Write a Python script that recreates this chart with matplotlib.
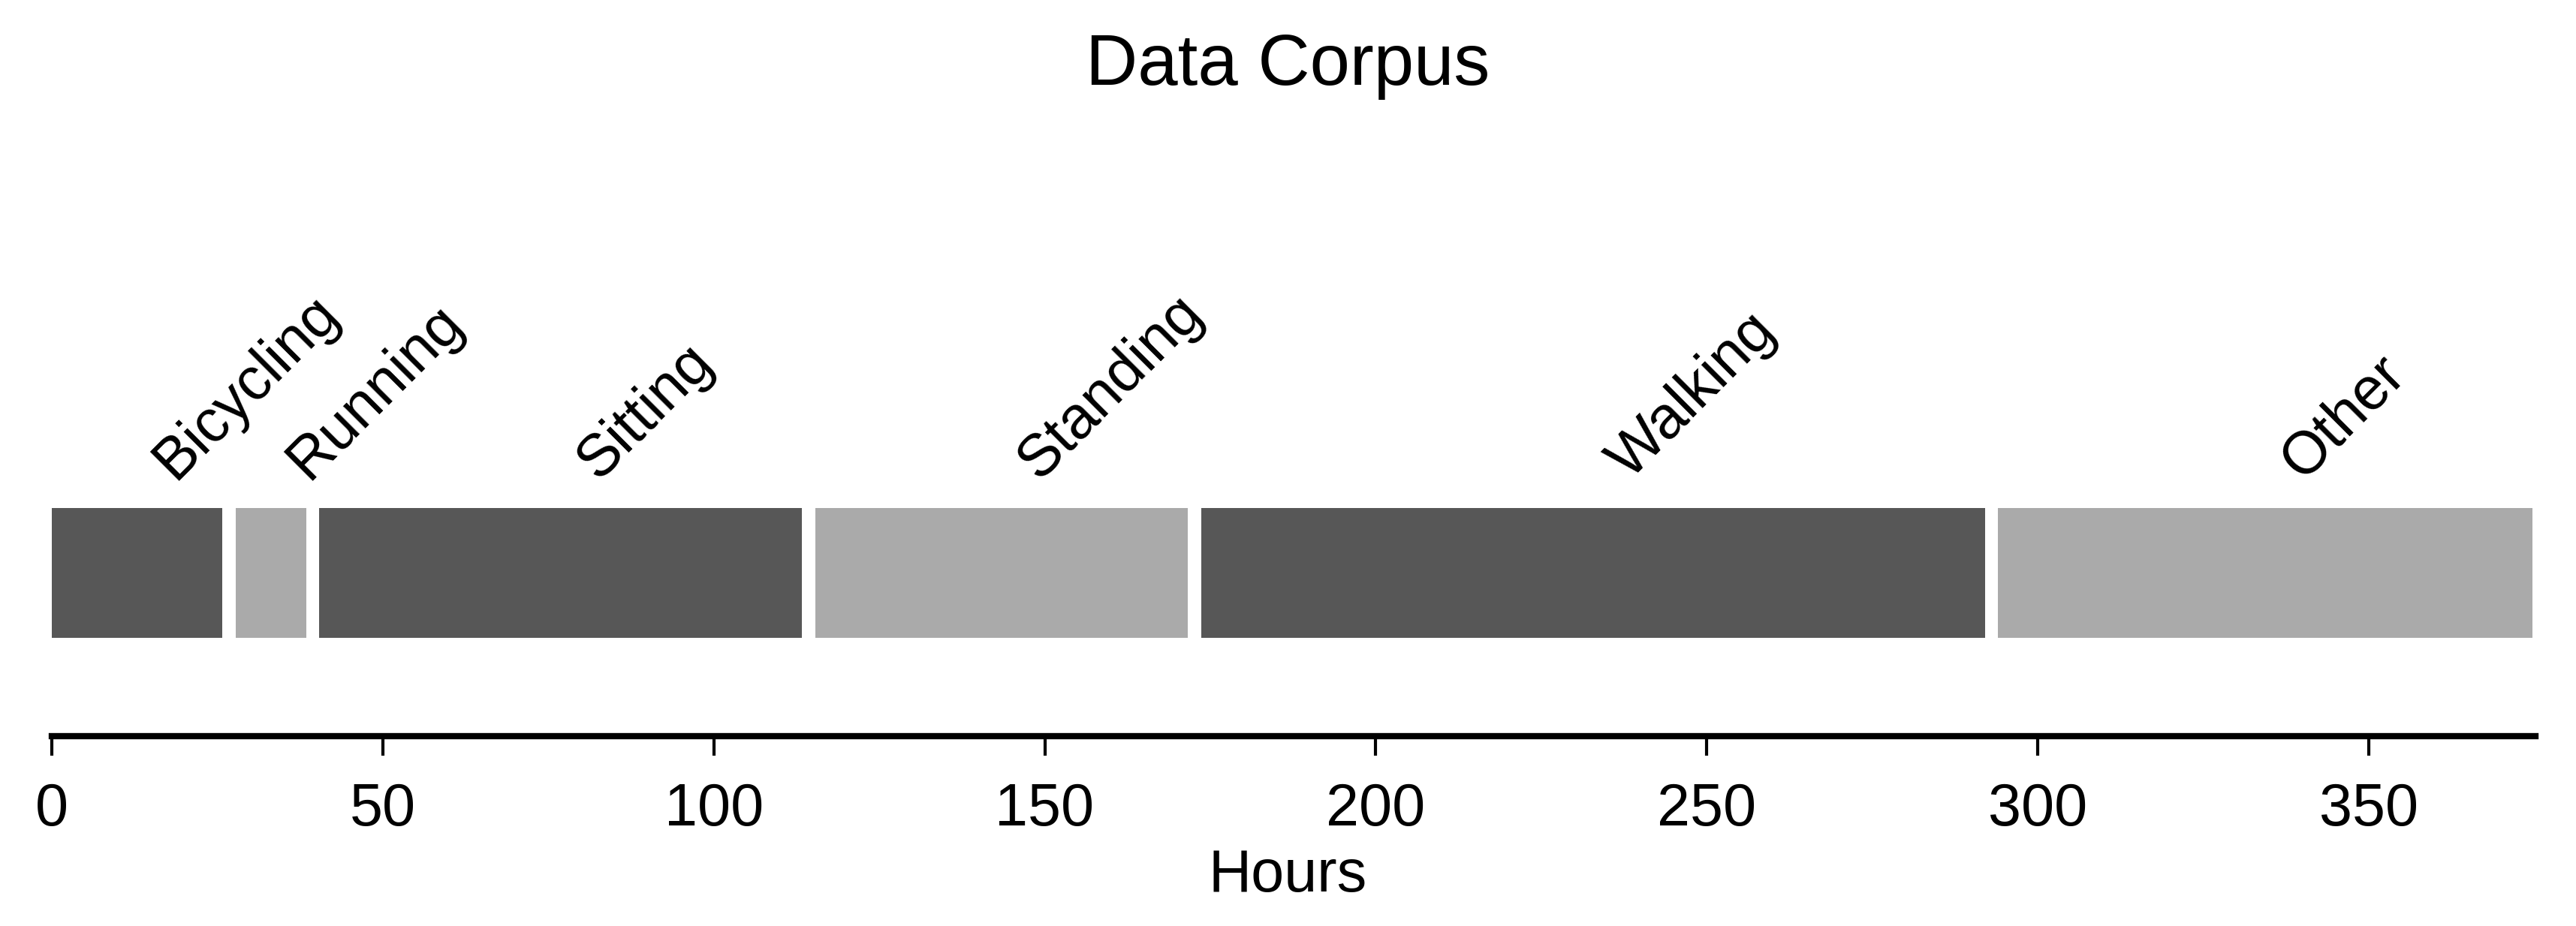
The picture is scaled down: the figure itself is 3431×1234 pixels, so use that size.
import matplotlib
matplotlib.use("Agg")
import matplotlib.pyplot as plt

# hours per activity
activities = ['Bicycling', 'Running', 'Sitting', 'Standing', 'Walking', 'Other']
hours = [25.8, 10.6, 72.9, 56.3, 118.4, 80.7]
bar_colors = ['#575757', '#aaaaaa', '#575757', '#aaaaaa', '#575757', '#aaaaaa']
xticks = [0, 50, 100, 150, 200, 250, 300, 350]

plt.rcParams['font.family'] = ['Liberation Sans', 'DejaVu Sans']

gap = 2.0
lefts = []
pos = 0.0
for h in hours:
    lefts.append(pos)
    pos += h + gap

fig = plt.figure(figsize=(3431 / 300, 1235 / 300), dpi=300)
ax = fig.add_axes([0.0201, 0.2049, 0.9642, 0.3162])

ax.barh(0, hours, left=lefts, height=1.0, color=bar_colors, linewidth=0)

for name, left, h in zip(activities, lefts, hours):
    ax.annotate(name, xy=(left + h / 2, 0.5), xytext=(2, 6), textcoords='offset points',
                rotation=45, ha='left', va='bottom', fontsize=19)

ax.set_xlim(0, 375.2)
ax.set_ylim(-1.257, 1.0)
ax.set_yticks([])
ax.set_xticks(xticks)
ax.tick_params(axis='x', direction='out', length=6.3, width=1.0, labelsize=19, pad=8)
for side in ['top', 'right', 'left']:
    ax.spines[side].set_visible(False)
ax.spines['bottom'].set_linewidth(2.0)

fig.text(0.5, 0.0545, 'Hours', ha='center', va='center', fontsize=19)
fig.text(0.5, 0.929, 'Data Corpus', ha='center', va='center', fontsize=23)

fig.savefig('out.png', dpi=300)
